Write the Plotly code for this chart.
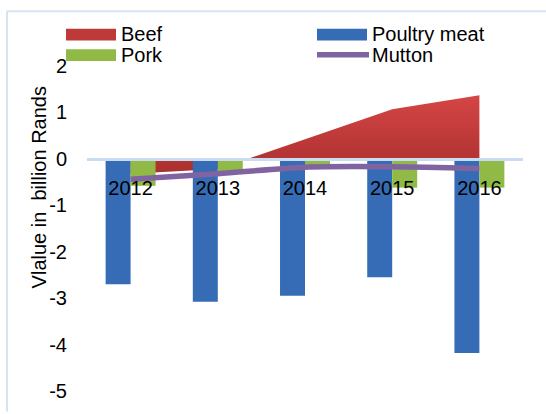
import plotly.graph_objects as go

# Trade balance by meat type (billion Rands)
years = ["2012", "2013", "2014", "2015", "2016"]
beef = [-0.32, -0.22, 0.42, 1.07, 1.37]
poultry = [-2.70, -3.08, -2.95, -2.55, -4.18]
pork = [-0.58, -0.28, -0.17, -0.62, -0.62]
mutton = [-0.44, -0.32, -0.18, -0.17, -0.21]
y_ticks = [2, 1, 0, -1, -2, -3, -4, -5]
y_tick_labels = ["2", "1", "0", "-1", "-2", "-3", "-4", "-5"]
y_title = "Vlalue in  billion Rands"

# Canvas and plot-area geometry (pixels)
W, H = 546, 414
L, R, T, B = 87, 23, 66, 16
PW, PH = W - L - R, H - T - B
Y_MIN, Y_MAX = -5, 2


def px(x):
    return (x - L) / PW


def py(y):
    return (H - B - y) / PH


FONT = "Liberation Sans, Arial, sans-serif"
RED_DARK, RED_LIGHT, RED_MID = "#a92f2e", "#d54545", "#bd3a39"
BLUE = "#356cb5"
GREEN = "#90ba45"
PURPLE = "#8064a2"
FRAME = "#d6e3f3"
AXIS = "#c9dcf1"

fig = go.Figure()

# Beef as a filled area on the base subplot, so the bars sit on top of it
fig.add_trace(go.Scatter(
    x=years, y=beef, name="Beef", mode="none", fill="tozeroy",
    fillgradient=dict(type="vertical",
                      colorscale=[[0, RED_DARK], [1, RED_LIGHT]],
                      start=min(beef), stop=max(beef)),
    xaxis="x", yaxis="y", hoverinfo="skip", showlegend=False,
))

# Bars and the mutton line on an overlaid subplot
fig.add_trace(go.Bar(
    x=years, y=poultry, name="Poultry meat",
    marker=dict(color=BLUE, line_width=0),
    xaxis="x2", yaxis="y2", showlegend=False,
))
fig.add_trace(go.Bar(
    x=years, y=pork, name="Pork",
    marker=dict(color=GREEN, line_width=0),
    xaxis="x2", yaxis="y2", showlegend=False,
))
fig.add_trace(go.Scatter(
    x=years, y=mutton, name="Mutton", mode="lines",
    line=dict(color=PURPLE, width=5.5, shape="spline", smoothing=0.8),
    xaxis="x2", yaxis="y2", showlegend=False,
))

cat_range = [-0.5, len(years) - 0.5]
zero_pos = (0 - Y_MIN) / (Y_MAX - Y_MIN)

fig.update_layout(
    width=W, height=H,
    margin=dict(l=L, r=R, t=T, b=B, pad=0),
    paper_bgcolor="white", plot_bgcolor="rgba(0,0,0,0)",
    font=dict(family=FONT, size=20, color="#000000"),
    barmode="group", bargap=0.427, bargroupgap=0,
    showlegend=False,
    xaxis=dict(type="category", range=cat_range, visible=False,
               showgrid=False, zeroline=False),
    yaxis=dict(range=[Y_MIN, Y_MAX], tickmode="array", tickvals=y_ticks,
               ticktext=y_tick_labels, showgrid=False, zeroline=False,
               showline=False, ticks="", ticklabelstandoff=19,
               tickfont=dict(family=FONT, size=20, color="#000000")),
    xaxis2=dict(type="category", range=cat_range, overlaying="x",
                anchor="free", position=zero_pos, showgrid=False,
                zeroline=False, showline=True, linecolor=AXIS, linewidth=2.5,
                ticks="", ticklabelstandoff=10, layer="above traces",
                tickfont=dict(family=FONT, size=20, color="#000000")),
    yaxis2=dict(range=[Y_MIN, Y_MAX], overlaying="y", visible=False,
                showgrid=False, zeroline=False),
)

shapes = []
# Chart frame (top and left edges)
shapes.append(dict(type="line", xref="paper", yref="paper",
                   x0=px(7), y0=py(10), x1=px(W + 5), y1=py(10),
                   line=dict(color=FRAME, width=2), layer="below"))
shapes.append(dict(type="line", xref="paper", yref="paper",
                   x0=px(7), y0=py(10), x1=px(7), y1=py(H + 5),
                   line=dict(color=FRAME, width=2), layer="below"))

# Legend swatches
legend_items = [
    ("Beef", 66, 28, "rect", RED_MID),
    ("Poultry meat", 317, 28, "rect", BLUE),
    ("Pork", 66, 49, "rect", GREEN),
    ("Mutton", 317, 49, "line", PURPLE),
]
annotations = []
for label, lx, ly, kind, color in legend_items:
    if kind == "rect":
        shapes.append(dict(type="rect", xref="paper", yref="paper",
                           x0=px(lx), x1=px(lx + 50), y0=py(ly), y1=py(ly + 12),
                           fillcolor=color, line=dict(width=0)))
    else:
        shapes.append(dict(type="line", xref="paper", yref="paper",
                           x0=px(lx), x1=px(lx + 52), y0=py(ly + 5.5),
                           y1=py(ly + 5.5), line=dict(color=color, width=5.5)))
    annotations.append(dict(text=label, xref="paper", yref="paper",
                            x=px(lx + 53), y=py(ly + 5.5), xanchor="left",
                            yanchor="middle", showarrow=False,
                            font=dict(family=FONT, size=20, color="#000000")))

# Value-axis title
annotations.append(dict(text=y_title, xref="paper", yref="paper",
                        x=px(39), y=py(190), xanchor="center", yanchor="middle",
                        textangle=-90, showarrow=False,
                        font=dict(family=FONT, size=20, color="#000000")))

fig.update_layout(shapes=shapes, annotations=annotations)

fig.write_html("out.html")
